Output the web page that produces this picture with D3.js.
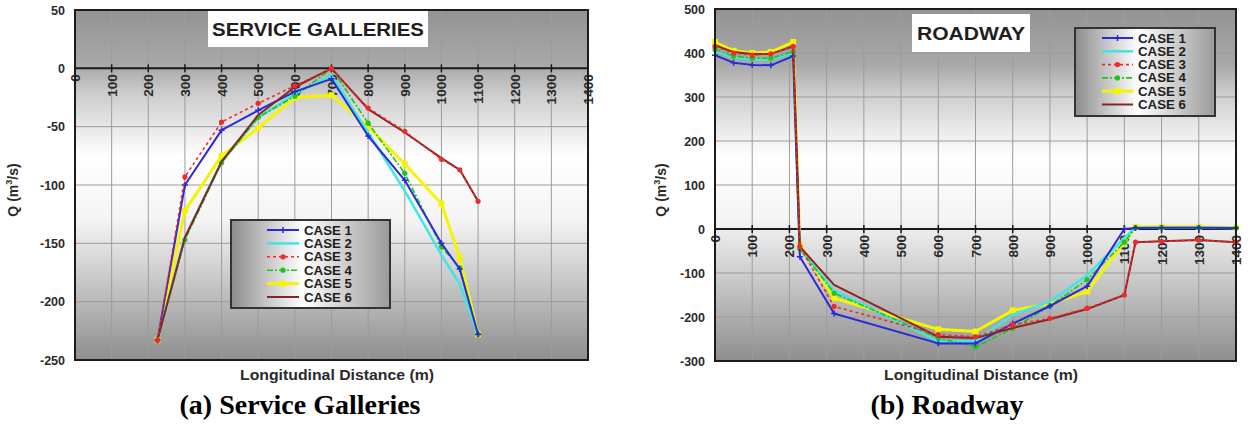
<!DOCTYPE html>
<html>
<head>
<meta charset="utf-8">
<script src="https://d3js.org/d3.v7.min.js"></script>
<style>
  body { margin: 0; background: #fff; }
  text { font-family: "Liberation Sans", Arial, sans-serif; }
</style>
</head>
<body>
<div id="graph"></div>
<script>
// ---- data ----
var caseNames = ["CASE 1", "CASE 2", "CASE 3", "CASE 4", "CASE 5", "CASE 6"];

// (a) service galleries
var sgDistance = [225, 300, 400, 500, 600, 700, 800, 900, 1000, 1050, 1100];
var sgCase1 = [-233, -100, -53, -36, -20, -9, -58, -96, -150, -172, -228];
var sgCase2 = [-233, -145, -80, -42, -22, -6, -55, -105, -160, -185, -228];
var sgCase3 = [-233, -93, -46, -30, -15, 0, -34, -54, -78, -87, -114];
var sgCase4 = [-233, -147, -81, -42, -24, 0, -47, -90, -153, -171, -228];
var sgCase5 = [-233, -122, -75, -51, -25, -23, -50, -82, -116, -162, -228];
var sgCase6 = [-233, -145, -80, -40, -16, 0, -35, -55, -77, -87, -114];
var sgYTicks = [50, 0, -50, -100, -150, -200, -250];

// (b) roadway
var rwDistance = [0, 50, 100, 150, 210, 228, 320, 600, 700, 800, 900, 1000, 1100, 1130, 1200, 1300, 1400];
var rwCase1 = [395, 378, 373, 372, 393, -63, -192, -260, -260, -215, -175, -130, 0, 2, 3, 3, 2];
var rwCase2 = [405, 390, 385, 385, 400, -45, -140, -255, -255, -195, -165, -105, -20, 3, 3, 3, 2];
var rwCase3 = [415, 400, 395, 398, 415, -40, -176, -240, -245, -218, -203, -180, -150, -30, -28, -25, -30];
var rwCase4 = [408, 393, 388, 388, 403, -45, -146, -248, -268, -226, -175, -115, -30, 3, 3, 3, 2];
var rwCase5 = [425, 405, 400, 402, 425, -35, -157, -228, -233, -185, -170, -142, -30, 5, 5, 5, 3];
var rwCase6 = [418, 402, 398, 398, 415, -40, -127, -245, -248, -225, -205, -182, -150, -30, -28, -25, -30];
var rwYTicks = [500, 400, 300, 200, 100, 0, -100, -200, -300];

var xTicks = [0, 100, 200, 300, 400, 500, 600, 700, 800, 900, 1000, 1100, 1200, 1300, 1400];

// line styles per case
var caseStyle = [
  {color: "#2a2ad6", width: 2,   dash: null,      marker: "cross"},
  {color: "#3fe6e6", width: 2.5, dash: null,      marker: "none"},
  {color: "#f02a2a", width: 1.6, dash: "3,3",     marker: "dot"},
  {color: "#1fc41f", width: 1.6, dash: "6,2,2,2", marker: "dot"},
  {color: "#f5f500", width: 3,   dash: null,      marker: "square"},
  {color: "#8a2424", width: 2,   dash: null,      marker: "none"}
];
var drawOrder = [4, 1, 3, 0, 5, 2];

var svg = d3.select("#graph")
  .append("svg")
    .attr("width", 1248)
    .attr("height", 426);

svg.append("rect").attr("width", 1248).attr("height", 426).attr("fill", "#fff");

var defs = svg.append("defs");
var bg = defs.append("linearGradient").attr("id", "plotBg")
  .attr("x1", 0).attr("y1", 0).attr("x2", 0).attr("y2", 1);
[[0, "#939393"], [0.16, "#a9a9a9"], [0.24, "#cdcdcd"], [0.42, "#ffffff"], [0.6, "#f4f4f4"], [0.82, "#bcbcbc"], [1, "#8e8e8e"]]
  .forEach(function (s) { bg.append("stop").attr("offset", s[0]).attr("stop-color", s[1]); });

var lg = defs.append("linearGradient").attr("id", "legendBg")
  .attr("x1", 0).attr("y1", 0).attr("x2", 1).attr("y2", 0);
[[0, "#8c8c8c"], [0.45, "#ffffff"], [1, "#9a9a9a"]]
  .forEach(function (s) { lg.append("stop").attr("offset", s[0]).attr("stop-color", s[1]); });

function drawPanel(p) {
  var x = d3.scaleLinear().domain([0, 1400]).range([p.left, p.right]);
  var y = d3.scaleLinear().domain(p.yDomain).range([p.bottom, p.top]);
  var g = svg.append("g");

  // plot background
  g.append("rect")
    .attr("x", p.left).attr("y", p.top)
    .attr("width", p.right - p.left).attr("height", p.bottom - p.top)
    .attr("fill", "url(#plotBg)");

  // grid
  g.append("g").selectAll("line").data(xTicks).enter().append("line")
    .attr("x1", d => x(d)).attr("x2", d => x(d))
    .attr("y1", p.top).attr("y2", p.bottom)
    .attr("stroke", "#9c9c9c").attr("stroke-width", 1);
  g.append("g").selectAll("line").data(p.yTicks).enter().append("line")
    .attr("x1", p.left).attr("x2", p.right)
    .attr("y1", d => y(d)).attr("y2", d => y(d))
    .attr("stroke", "#9c9c9c").attr("stroke-width", 1);

  // title box
  g.append("rect")
    .attr("x", p.titleBox[0]).attr("y", p.titleBox[1])
    .attr("width", p.titleBox[2]).attr("height", p.titleBox[3])
    .attr("fill", "#fff");
  g.append("text")
    .attr("x", p.titleBox[0] + p.titleBox[2] / 2)
    .attr("y", p.titleBox[1] + p.titleBox[3] / 2 + 7)
    .attr("text-anchor", "middle")
    .attr("font-size", 19).attr("font-weight", "bold").attr("fill", "#1e1e1e")
    .attr("textLength", p.titleWidth).attr("lengthAdjust", "spacingAndGlyphs")
    .text(p.title);

  // zero axis with ticks and rotated labels
  var y0 = y(0);
  g.append("line")
    .attr("x1", p.left).attr("x2", p.right).attr("y1", y0).attr("y2", y0)
    .attr("stroke", "#1a1a1a").attr("stroke-width", 2);
  g.append("g").selectAll("line").data(xTicks).enter().append("line")
    .attr("x1", d => x(d)).attr("x2", d => x(d))
    .attr("y1", y0 - 4).attr("y2", y0 + 4)
    .attr("stroke", "#1a1a1a").attr("stroke-width", 1.5);
  g.append("g").selectAll("text").data(xTicks).enter().append("text")
    .attr("transform", d => "translate(" + (x(d) + 5) + "," + (y0 + 6) + ") rotate(-90)")
    .attr("text-anchor", "end")
    .attr("font-size", 13.5).attr("font-weight", "bold").attr("fill", "#2a2a2a")
    .text(d => d);

  // y tick labels
  g.append("g").selectAll("text").data(p.yTicks).enter().append("text")
    .attr("x", p.left - 10).attr("y", d => y(d) + 4.5)
    .attr("text-anchor", "end")
    .attr("font-size", 12.5).attr("font-weight", "bold").attr("fill", "#2a2a2a")
    .text(d => d);

  // series
  var lineGen = d3.line().x(d => x(d[0])).y(d => y(d[1]));
  drawOrder.forEach(function (k) {
    var st = caseStyle[k];
    var pts = p.distance.map(function (d, i) { return [d, p.series[k][i]]; });
    g.append("path")
      .datum(pts)
      .attr("d", lineGen)
      .attr("fill", "none")
      .attr("stroke", st.color)
      .attr("stroke-width", st.width)
      .attr("stroke-linejoin", "round")
      .attr("stroke-dasharray", st.dash);
    drawMarkers(g, pts.map(d => [x(d[0]), y(d[1])]), st);
  });

  // plot frame
  g.append("rect")
    .attr("x", p.left).attr("y", p.top)
    .attr("width", p.right - p.left).attr("height", p.bottom - p.top)
    .attr("fill", "none").attr("stroke", "#1c1c1c").attr("stroke-width", 2);

  // legend
  var L = p.legend;
  g.append("rect")
    .attr("x", L.x).attr("y", L.y).attr("width", L.w).attr("height", L.h)
    .attr("fill", "url(#legendBg)").attr("stroke", "#333").attr("stroke-width", 2);
  caseNames.forEach(function (name, i) {
    var st = caseStyle[i];
    var ry = L.y + 10 + i * L.step;
    g.append("line")
      .attr("x1", L.x + L.lineX0).attr("x2", L.x + L.lineX1)
      .attr("y1", ry).attr("y2", ry)
      .attr("stroke", st.color).attr("stroke-width", st.width)
      .attr("stroke-dasharray", st.dash);
    drawMarkers(g, [[L.x + (L.lineX0 + L.lineX1) / 2, ry]], st);
    g.append("text")
      .attr("x", L.x + L.lineX1 + 5).attr("y", ry + 4.5)
      .attr("font-size", 12.5).attr("font-weight", "bold").attr("fill", "#1e1e1e")
      .attr("textLength", 48).attr("lengthAdjust", "spacingAndGlyphs")
      .text(name);
  });

  // axis titles
  var qt = g.append("text")
    .attr("transform", "translate(" + p.qX + "," + ((p.top + p.bottom) / 2 + 5) + ") rotate(-90)")
    .attr("text-anchor", "middle")
    .attr("font-size", 14).attr("font-weight", "bold").attr("fill", "#2a2a2a");
  qt.append("tspan").text("Q (m");
  qt.append("tspan").attr("font-size", 9).attr("dy", -6).text("3");
  qt.append("tspan").attr("dy", 6).text("/s)");

  g.append("text")
    .attr("x", p.xTitleX).attr("y", 380)
    .attr("text-anchor", "middle")
    .attr("font-size", 14).attr("font-weight", "bold").attr("fill", "#2a2a2a")
    .attr("textLength", 194).attr("lengthAdjust", "spacingAndGlyphs")
    .text("Longitudinal Distance (m)");

  g.append("text")
    .attr("x", p.captionX).attr("y", 414)
    .attr("text-anchor", "middle")
    .style("font-family", "'Liberation Serif', 'Times New Roman', serif")
    .attr("font-size", 28).attr("font-weight", "bold").attr("fill", "#000")
    .text(p.caption);
}

function drawMarkers(g, pts, st) {
  if (st.marker === "dot") {
    g.append("g").selectAll("circle").data(pts).enter().append("circle")
      .attr("cx", d => d[0]).attr("cy", d => d[1]).attr("r", 2.6)
      .attr("fill", st.color);
  } else if (st.marker === "square") {
    g.append("g").selectAll("rect").data(pts).enter().append("rect")
      .attr("x", d => d[0] - 3).attr("y", d => d[1] - 3)
      .attr("width", 6).attr("height", 6).attr("fill", st.color);
  } else if (st.marker === "cross") {
    g.append("g").selectAll("path").data(pts).enter().append("path")
      .attr("d", d => "M" + (d[0] - 3) + "," + d[1] + "h6M" + d[0] + "," + (d[1] - 3) + "v6")
      .attr("stroke", st.color).attr("stroke-width", 1.5);
  }
}

drawPanel({
  left: 75, right: 588, top: 10, bottom: 360,
  yDomain: [-250, 50], yTicks: sgYTicks,
  distance: sgDistance,
  series: [sgCase1, sgCase2, sgCase3, sgCase4, sgCase5, sgCase6],
  title: "SERVICE GALLERIES", titleBox: [208, 10, 220, 37], titleWidth: 212,
  legend: {x: 231, y: 220, w: 159, h: 88, step: 13.4, lineX0: 36, lineX1: 68},
  qX: 18, xTitleX: 337, captionX: 300,
  caption: "(a) Service Galleries"
});

drawPanel({
  left: 715, right: 1236, top: 9, bottom: 361,
  yDomain: [-300, 500], yTicks: rwYTicks,
  distance: rwDistance,
  series: [rwCase1, rwCase2, rwCase3, rwCase4, rwCase5, rwCase6],
  title: "ROADWAY", titleBox: [912, 14, 118, 38], titleWidth: 108,
  legend: {x: 1075, y: 28, w: 140, h: 88, step: 13.3, lineX0: 27, lineX1: 58},
  qX: 666, xTitleX: 981, captionX: 947,
  caption: "(b) Roadway"
});
</script>
</body>
</html>
